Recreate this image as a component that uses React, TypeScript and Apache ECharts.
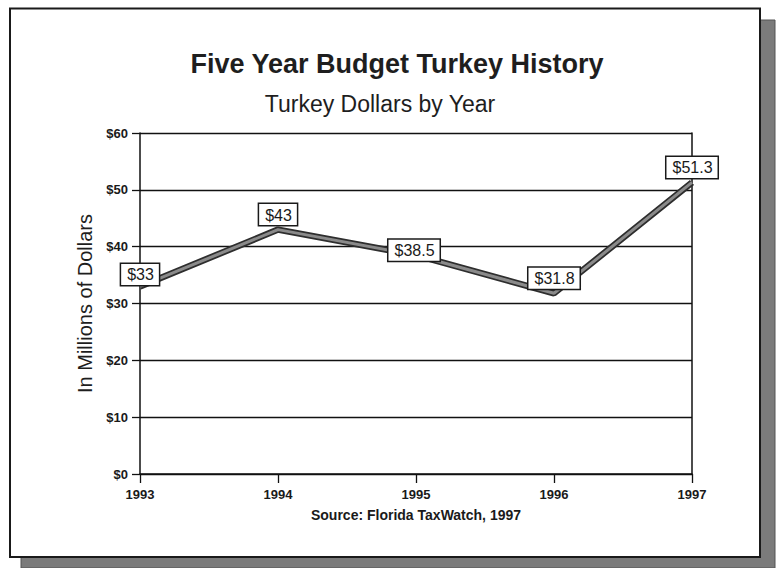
import React, { useEffect, useRef } from "react";
import * as echarts from "echarts";

const years = ["1993", "1994", "1995", "1996", "1997"];
const turkeyDollars = [33, 43, 38.5, 31.8, 51.3];
const yTicks = { min: 0, max: 60, interval: 10 };
const titleText = "Five Year Budget Turkey History";
const subtitleText = "Turkey Dollars by Year";
const yAxisName = "In Millions of Dollars";
const sourceText = "Source: Florida TaxWatch, 1997";

const FONT = "Arial, 'Liberation Sans', Helvetica, sans-serif";

export default function App() {
  const ref = useRef<HTMLDivElement>(null);

  useEffect(() => {
    if (!ref.current) return;
    const chart = echarts.init(ref.current, undefined, { renderer: "svg" });

    const labelData = turkeyDollars.map((v, i) =>
      i === 2
        ? { value: v, label: { position: "inside", offset: [-2, -5] } }
        : i === 0
        ? { value: v, label: { distance: 1 } }
        : { value: v }
    );

    chart.setOption({
      animation: false,
      backgroundColor: "#ffffff",
      textStyle: { fontFamily: FONT },
      graphic: [
        {
          type: "rect",
          z: -10,
          silent: true,
          shape: { x: 21, y: 20, width: 754, height: 548 },
          style: { fill: "#7b7b7b", stroke: "#555", lineWidth: 1 },
        },
        {
          type: "rect",
          z: -9,
          silent: true,
          shape: { x: 10, y: 8.5, width: 750, height: 548.5 },
          style: { fill: "#ffffff", stroke: "#1a1a1a", lineWidth: 2 },
        },
      ],
      title: [
        {
          text: titleText,
          left: 397,
          top: 50,
          padding: 0,
          textAlign: "center",
          textStyle: {
            fontFamily: FONT,
            fontSize: 27,
            fontWeight: "bold",
            color: "#1e1e1e",
          },
        },
        {
          text: subtitleText,
          left: 380,
          top: 92,
          padding: 0,
          textAlign: "center",
          textStyle: {
            fontFamily: FONT,
            fontSize: 23,
            fontWeight: "normal",
            color: "#1e1e1e",
          },
        },
      ],
      grid: { left: 140, right: 86, top: 133, bottom: 94, containLabel: false },
      xAxis: {
        type: "category",
        data: years,
        boundaryGap: false,
        name: sourceText,
        nameLocation: "middle",
        nameGap: 34,
        nameTextStyle: {
          fontFamily: FONT,
          fontSize: 14,
          fontWeight: "bold",
          color: "#1a1a1a",
        },
        axisLine: { show: true, lineStyle: { color: "#111", width: 1.5 } },
        axisTick: {
          show: true,
          alignWithLabel: true,
          length: 9,
          lineStyle: { color: "#111", width: 1.3 },
        },
        axisLabel: {
          margin: 14,
          fontFamily: FONT,
          fontSize: 13,
          fontWeight: "bold",
          color: "#1a1a1a",
        },
        splitLine: { show: false },
      },
      yAxis: [
        {
          type: "value",
          min: yTicks.min,
          max: yTicks.max,
          interval: yTicks.interval,
          name: yAxisName,
          nameLocation: "middle",
          nameRotate: 90,
          nameGap: 45,
          nameTextStyle: {
            fontFamily: FONT,
            fontSize: 20,
            fontWeight: "normal",
            color: "#1e1e1e",
          },
          axisLine: { show: true, lineStyle: { color: "#111", width: 1.5 } },
          axisTick: {
            show: true,
            length: 8,
            lineStyle: { color: "#111", width: 1.3 },
          },
          axisLabel: {
            margin: 12,
            formatter: (v: number) => "$" + v,
            fontFamily: FONT,
            fontSize: 13,
            fontWeight: "bold",
            color: "#1a1a1a",
          },
          splitLine: { show: true, lineStyle: { color: "#111", width: 1.4 } },
        },
        {
          type: "value",
          position: "right",
          min: yTicks.min,
          max: yTicks.max,
          interval: yTicks.interval,
          axisLine: { show: true, lineStyle: { color: "#111", width: 1.5 } },
          axisTick: { show: false },
          axisLabel: { show: false },
          splitLine: { show: false },
        },
      ],
      series: [
        {
          type: "line",
          data: turkeyDollars,
          symbol: "none",
          z: 3,
          silent: true,
          lineStyle: { color: "#2e2e2e", width: 6.5 },
        },
        {
          type: "line",
          data: labelData,
          symbol: "circle",
          symbolSize: 1,
          showSymbol: true,
          z: 4,
          itemStyle: { color: "transparent" },
          lineStyle: { color: "#8a8a8a", width: 3 },
          label: {
            show: true,
            position: "top",
            distance: 4,
            formatter: (p: any) => "$" + p.value,
            fontFamily: FONT,
            fontSize: 16,
            fontWeight: "normal",
            color: "#1a1a1a",
            backgroundColor: "#ffffff",
            borderColor: "#1a1a1a",
            borderWidth: 1.5,
            padding: [3, 5, 2, 6],
          },
        },
      ],
    });

    return () => chart.dispose();
  }, []);

  return (
    <div
      ref={ref}
      style={{ position: "fixed", left: 0, top: 0, width: 778, height: 568 }}
    />
  );
}
